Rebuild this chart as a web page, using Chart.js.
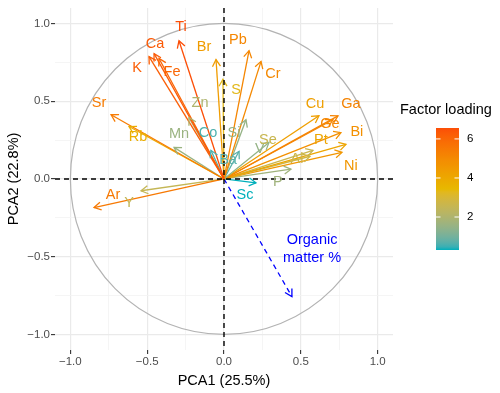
<!DOCTYPE html>
<html>
<head>
<meta charset="utf-8">
<script src="https://cdn.jsdelivr.net/npm/chart.js@4"></script>
<style>
  html, body { margin: 0; padding: 0; background: #ffffff; }
  #wrap { width: 500px; height: 393px; position: relative; }
</style>
</head>
<body>
<div id="wrap"><canvas id="c" width="500" height="393"></canvas></div>
<script>
// ---------- data ----------
const variables = ['Ti','Ca','K','Fe','Br','Pb','Cr','S','Zn','Sr','Rb','Mn','Co','Si','Ba','V','Cu','Ga','Ge','Bi','Pt','Se','Al','Ni','P','Sc','Ar','Y'];
const pc1 = [-0.293,-0.455,-0.488,-0.423,-0.052,0.163,0.241,-0.007,-0.228,-0.735,-0.618,-0.325,-0.085,0.143,0.098,0.293,0.618,0.742,0.709,0.761,0.794,0.579,0.560,0.768,0.436,0.208,-0.846,-0.540];
const pc2 = [0.889,0.806,0.787,0.775,0.768,0.825,0.756,0.641,0.394,0.413,0.337,0.203,0.184,0.381,0.178,0.235,0.406,0.406,0.381,0.298,0.222,0.184,0.146,0.171,0.063,-0.025,-0.184,-0.076];
const loading = [6.56,6.3,6.2,6.0,4.4,5.1,5.0,3.3,2.0,5.4,3.8,1.6,0.6,1.5,0.7,1.5,4.3,5.2,5.1,4.8,4.1,2.6,2.7,4.6,1.7,0.31,5.5,2.5];
// label anchor positions (data units)
const labelX = [-0.280,-0.449,-0.566,-0.338,-0.130,0.091,0.319,0.078,-0.156,-0.813,-0.560,-0.293,-0.104,0.065,0.026,0.234,0.592,0.826,0.690,0.865,0.631,0.286,0.475,0.826,0.351,0.137,-0.722,-0.618];
const labelY = [0.978,0.870,0.711,0.686,0.851,0.895,0.673,0.571,0.489,0.489,0.267,0.286,0.298,0.298,0.121,0.190,0.483,0.483,0.356,0.305,0.248,0.248,0.127,0.083,-0.019,-0.102,-0.102,-0.152];
// supplementary variable
const suppName = ['Organic', 'matter %'];
const suppPC1 = 0.442, suppPC2 = -0.756;
const suppLabelX = 0.573, suppLabelY = -0.451;
// axes
const tickValues = [-1,-0.75,-0.5,-0.25,0,0.25,0.5,0.75,1];
const legendTicks = [2,4,6];
const gradientColors = ['#00AFBB','#E7B800','#FC4E07'];

// ---------- colour helpers (Lab interpolation, like ggplot) ----------
function hex2rgb(h){ h=h.replace('#',''); return [0,2,4].map(i=>parseInt(h.substr(i,2),16)); }
function lin(c){ c/=255; return c<=0.04045? c/12.92 : Math.pow((c+0.055)/1.055,2.4); }
function delin(c){ c = c<=0.0031308? 12.92*c : 1.055*Math.pow(c,1/2.4)-0.055; return Math.max(0,Math.min(255,Math.round(c*255))); }
const Xn=0.95047,Yn=1,Zn=1.08883;
function f(t){ return t>0.008856? Math.cbrt(t) : 7.787*t+16/116; }
function finv(t){ return t>0.206893? t*t*t : (t-16/116)/7.787; }
function rgb2lab(rgb){ const [r,g,b]=rgb.map(lin);
  const X=0.4124*r+0.3576*g+0.1805*b, Y=0.2126*r+0.7152*g+0.0722*b, Z=0.0193*r+0.1192*g+0.9505*b;
  const fx=f(X/Xn), fy=f(Y/Yn), fz=f(Z/Zn); return [116*fy-16, 500*(fx-fy), 200*(fy-fz)]; }
function lab2rgb(lab){ const fy=(lab[0]+16)/116, fx=fy+lab[1]/500, fz=fy-lab[2]/200;
  const X=Xn*finv(fx), Y=Yn*finv(fy), Z=Zn*finv(fz);
  const r=3.2406*X-1.5372*Y-0.4986*Z, g=-0.9689*X+1.8758*Y+0.0415*Z, b=0.0557*X-0.2040*Y+1.0570*Z;
  return [delin(r),delin(g),delin(b)]; }
const gradLab = gradientColors.map(c=>rgb2lab(hex2rgb(c)));
const lmin = Math.min(...loading), lmax = Math.max(...loading);
function colorAt(v){
  let t=(v-lmin)/(lmax-lmin); t=Math.max(0,Math.min(1,t));
  const seg=t*(gradLab.length-1); const i=Math.min(Math.floor(seg),gradLab.length-2); const u=seg-i;
  const a=gradLab[i], b=gradLab[i+1];
  const rgb=lab2rgb([a[0]+(b[0]-a[0])*u, a[1]+(b[1]-a[1])*u, a[2]+(b[2]-a[2])*u]);
  return 'rgb('+rgb.join(',')+')';
}

const FONT = '"Liberation Sans", Arial, Helvetica, sans-serif';

// ---------- datasets ----------
const datasets = variables.map((v,i)=>({
  label: v,
  data: [{x:0,y:0},{x:pc1[i],y:pc2[i]}],
  showLine: true, borderColor: colorAt(loading[i]), borderWidth: 1.3,
  pointRadius: 0, fill: false
}));
datasets.push({
  label: suppName.join(' '),
  data: [{x:0,y:0},{x:suppPC1,y:suppPC2}],
  showLine: true, borderColor: '#0000FF', borderWidth: 1.3, borderDash: [5,4],
  pointRadius: 0, fill: false
});

function arrowHead(ctx, x0, y0, x1, y1, color){
  const ang = Math.atan2(y1-y0, x1-x0), L = 8, a = Math.PI/6;
  ctx.save(); ctx.strokeStyle=color; ctx.lineWidth=1.3; ctx.setLineDash([]);
  ctx.beginPath();
  ctx.moveTo(x1 - L*Math.cos(ang-a), y1 - L*Math.sin(ang-a));
  ctx.lineTo(x1, y1);
  ctx.lineTo(x1 - L*Math.cos(ang+a), y1 - L*Math.sin(ang+a));
  ctx.stroke(); ctx.restore();
}

const biplot = {
  id: 'biplot',
  beforeDatasetsDraw(chart){
    const {ctx, scales:{x,y}} = chart;
    const cx=x.getPixelForValue(0), cy=y.getPixelForValue(0);
    const rx=x.getPixelForValue(1)-cx, ry=cy-y.getPixelForValue(1);
    ctx.save(); ctx.strokeStyle='#B3B3B3'; ctx.lineWidth=1.2;
    ctx.beginPath(); ctx.ellipse(cx,cy,rx,ry,0,0,Math.PI*2); ctx.stroke(); ctx.restore();
  },
  afterDatasetsDraw(chart){
    const {ctx, chartArea:ca, scales:{x,y}} = chart;
    const cx=x.getPixelForValue(0), cy=y.getPixelForValue(0);
    variables.forEach((v,i)=>{
      arrowHead(ctx, cx, cy, x.getPixelForValue(pc1[i]), y.getPixelForValue(pc2[i]), colorAt(loading[i]));
    });
    // zero lines
    ctx.save(); ctx.strokeStyle='#000'; ctx.lineWidth=1.4; ctx.setLineDash([5,4]);
    ctx.beginPath(); ctx.moveTo(ca.left, cy); ctx.lineTo(ca.right, cy); ctx.stroke();
    ctx.beginPath(); ctx.moveTo(cx, ca.top); ctx.lineTo(cx, ca.bottom); ctx.stroke();
    ctx.restore();
    // supplementary arrow head
    arrowHead(ctx, cx, cy, x.getPixelForValue(suppPC1), y.getPixelForValue(suppPC2), '#0000FF');
    // labels
    ctx.save(); ctx.font = '14.5px '+FONT; ctx.textAlign='center'; ctx.textBaseline='middle';
    variables.forEach((v,i)=>{
      ctx.fillStyle = colorAt(loading[i]);
      ctx.fillText(v, x.getPixelForValue(labelX[i]), y.getPixelForValue(labelY[i]));
    });
    ctx.fillStyle='#0000FF';
    const lx=x.getPixelForValue(suppLabelX), ly=y.getPixelForValue(suppLabelY);
    ctx.fillText(suppName[0], lx, ly-9);
    ctx.fillText(suppName[1], lx, ly+9);
    ctx.restore();
  },
  afterDraw(chart){
    const ctx = chart.ctx;
    ctx.save();
    ctx.fillStyle='#000'; ctx.font='14.5px '+FONT; ctx.textAlign='left'; ctx.textBaseline='middle';
    ctx.fillText('Factor loading', 400, 110);
    const bx=436, bw=23, btop=128, bbot=250;
    const g = ctx.createLinearGradient(0,bbot,0,btop);
    for(let k=0;k<=40;k++){ const t=k/40; g.addColorStop(t, colorAt(lmin+t*(lmax-lmin))); }
    ctx.fillStyle=g; ctx.fillRect(bx,btop,bw,bbot-btop);
    ctx.strokeStyle='#FFFFFF'; ctx.lineWidth=1;
    ctx.font='11.5px '+FONT; ctx.fillStyle='#000';
    legendTicks.forEach(v=>{
      const yy = bbot - (v-lmin)/(lmax-lmin)*(bbot-btop);
      ctx.beginPath(); ctx.moveTo(bx,yy); ctx.lineTo(bx+4.5,yy); ctx.moveTo(bx+bw-4.5,yy); ctx.lineTo(bx+bw,yy); ctx.stroke();
      ctx.fillText(String(v), 467, yy);
    });
    ctx.restore();
  }
};

function isMajor(v){ return Math.abs(v*2 - Math.round(v*2)) < 1e-6; }
function fmt(v){ if(!isMajor(v)) return ''; const s=Math.abs(v).toFixed(1); return v< -1e-9 ? '\u2212'+s : s; }
function axisCfg(title, isX){
  return {
    type:'linear', min:-1.1, max:1.1,
    afterBuildTicks: s => { s.ticks = tickValues.map(v=>({value:v})); },
    afterFit: s => { if(isX) s.height = 43; else s.width = 55; },
    border: {display:false},
    grid: {
      color: c => isMajor(c.tick.value) ? '#EAEAEA' : '#F3F3F3',
      lineWidth: c => isMajor(c.tick.value) ? 1.2 : 0.8,
      tickColor: c => isMajor(c.tick.value) ? '#333333' : 'rgba(0,0,0,0)',
      tickWidth: 1.1,
      tickLength: 4, drawTicks: true
    },
    ticks: { callback: v => fmt(v), color:'#4D4D4D', font:{size:11.5, family:FONT}, padding: isX?1:1, autoSkip:false, maxRotation:0 },
    title: { display:true, text:title, color:'#000', font:{size:14.5, family:FONT},
             padding: isX ? {top:0,bottom:3} : {top:5,bottom:0} }
  };
}

new Chart(document.getElementById('c'), {
  type: 'scatter',
  data: { datasets },
  options: {
    responsive:false, animation:false, events:[],
    layout: { padding: {left:0, right:107, top:4, bottom:0} },
    plugins: { legend:{display:false}, tooltip:{enabled:false} },
    scales: { x: axisCfg('PCA1 (25.5%)', true), y: axisCfg('PCA2 (22.8%)', false) }
  },
  plugins: [biplot]
});
</script>
</body>
</html>
